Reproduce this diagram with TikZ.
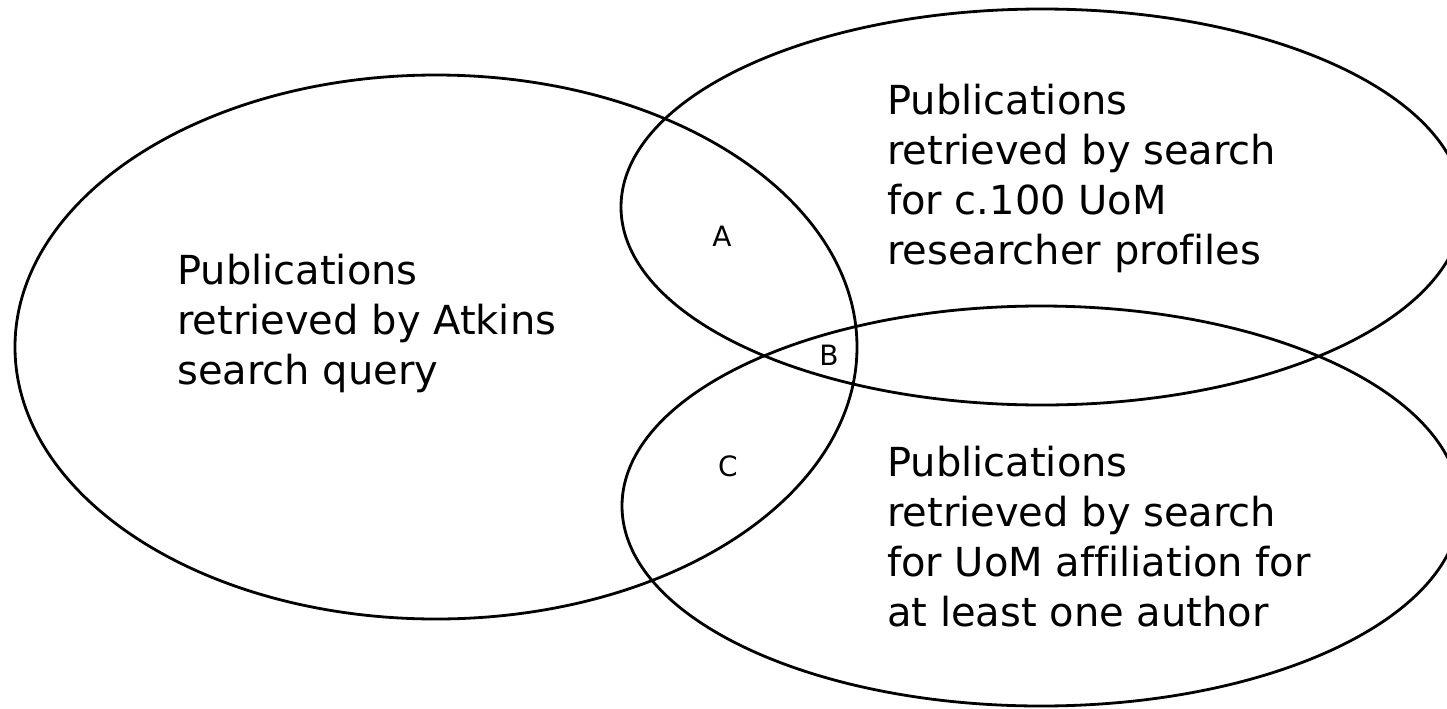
\documentclass[tikz,border=0pt]{standalone}
\usepackage{fontspec}
\setmainfont{DejaVu Sans}[Ligatures=NoCommon]

\begin{document}
\begin{tikzpicture}[x=0.75pt, y=-0.75pt,
    set/.style={line width=2.1pt},
    blurb/.style={anchor=north west, inner sep=0pt, align=left, font=\fontsize{30}{37.5}\selectfont},
    region/.style={inner sep=0pt, font=\fontsize{21}{24}\selectfont}]

    \useasboundingbox (0,0) rectangle (1447,708);
    \clip (0,0) rectangle (1447,708);

    %% Venn diagram of retrieved publications
    % Atkins search query
    \draw[set] (436,347) ellipse [x radius=421, y radius=272];
    \node[blurb] (atkins) at (177,254) {Publications\\retrieved by Atkins\\search query};

    % Researcher profiles
    \draw[set] (1042,207) ellipse [x radius=421, y radius=198];
    \node[blurb] (profiles) at (887,84) {Publications\\retrieved by search\\for c.100 UoM\\researcher profiles};

    % UoM affiliation
    \draw[set] (1041,506) ellipse [x radius=419, y radius=200];
    \node[blurb] (affil) at (887,446) {Publications\\retrieved by search\\for UoM affiliation for\\at least one author};

    % Overlap labels
    \node[region] (A) at (722,236) {A};
    \node[region] (B) at (829,355) {B};
    \node[region] (C) at (728,466) {C};

\end{tikzpicture}
\end{document}
